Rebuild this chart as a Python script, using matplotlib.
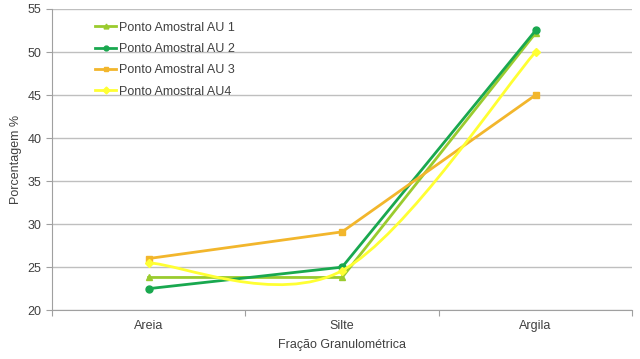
import numpy as np
import matplotlib.pyplot as plt
from matplotlib.path import Path
from matplotlib.patches import PathPatch
from matplotlib.lines import Line2D

plt.rcParams['font.family'] = ['Liberation Sans', 'DejaVu Sans']

categorias = ['Areia', 'Silte', 'Argila']
au1 = [23.8, 23.8, 52.2]
au2 = [22.5, 25.0, 52.5]
au3 = [26.0, 29.1, 45.0]
au4 = [25.5, 24.6, 50.0]

cores = ['#9ACB2E', '#19A84F', '#F2B62C', '#FFFF33']
nomes = ['Ponto Amostral AU 1', 'Ponto Amostral AU 2', 'Ponto Amostral AU 3', 'Ponto Amostral AU4']
marcadores = ['^', 'o', 's', 'D']

fig = plt.figure(figsize=(6.4, 3.59), dpi=100)
ax = fig.add_axes([0.081, 0.136, 0.907, 0.839])
x = np.arange(len(categorias))

# linhas retas
for serie, cor, mk, nome in zip([au1, au2, au3], cores[:3], marcadores[:3], nomes[:3]):
    ax.plot(x, serie, color=cor, lw=2, marker=mk, ms=5, label=nome, zorder=3)

# AU4 suavizada (estilo Excel, Catmull-Rom -> Bezier)
pts = np.column_stack([x, au4]).astype(float)
verts = [pts[0]]
codes = [Path.MOVETO]
n = len(pts)
for i in range(n - 1):
    p0 = pts[i - 1] if i > 0 else pts[i]
    p1 = pts[i]
    p2 = pts[i + 1]
    p3 = pts[i + 2] if i + 2 < n else pts[i + 1]
    c1 = p1 + (p2 - p0) / 6
    c2 = p2 - (p3 - p1) / 6
    verts += [c1, c2, p2]
    codes += [Path.CURVE4] * 3
ax.add_patch(PathPatch(Path(verts, codes), fill=False, edgecolor=cores[3], lw=2, zorder=3))
ax.plot(x, au4, ls='none', marker='D', ms=4.5, color=cores[3], zorder=4)

ax.set_xlim(-0.5, 2.5)
ax.set_ylim(20, 55)
ax.set_yticks(np.arange(20, 56, 5))
ax.set_xticks([-0.5, 0.5, 1.5, 2.5])
ax.set_xticklabels([])
ax.set_xticks(x, minor=True)
ax.set_xticklabels(categorias, minor=True)
ax.tick_params(axis='x', which='minor', length=0, pad=7)
ax.tick_params(axis='both', which='major', length=4, color='#A0A0A0', labelsize=9, labelcolor='#404040')
ax.tick_params(axis='x', which='minor', labelsize=9, labelcolor='#404040')
ax.grid(axis='y', color='#BFBFBF', lw=1)
ax.set_axisbelow(True)
for s in ['top', 'right']:
    ax.spines[s].set_visible(False)
for s in ['left', 'bottom']:
    ax.spines[s].set_color('#A0A0A0')
ax.set_ylabel('Porcentagem %', fontsize=9, color='#404040', labelpad=4)
ax.set_xlabel('Fração Granulométrica', fontsize=9, color='#404040', labelpad=5)

handles = [Line2D([], [], color=c, lw=2, marker=m, ms=3.5) for c, m in zip(cores, marcadores)]
ax.legend(handles, nomes, loc='upper left', bbox_to_anchor=(0.055, 0.995), frameon=False,
          fontsize=9, handlelength=1.7, handletextpad=0.25, labelspacing=0.75, labelcolor='#404040')

fig.savefig('out.png', dpi=100)
